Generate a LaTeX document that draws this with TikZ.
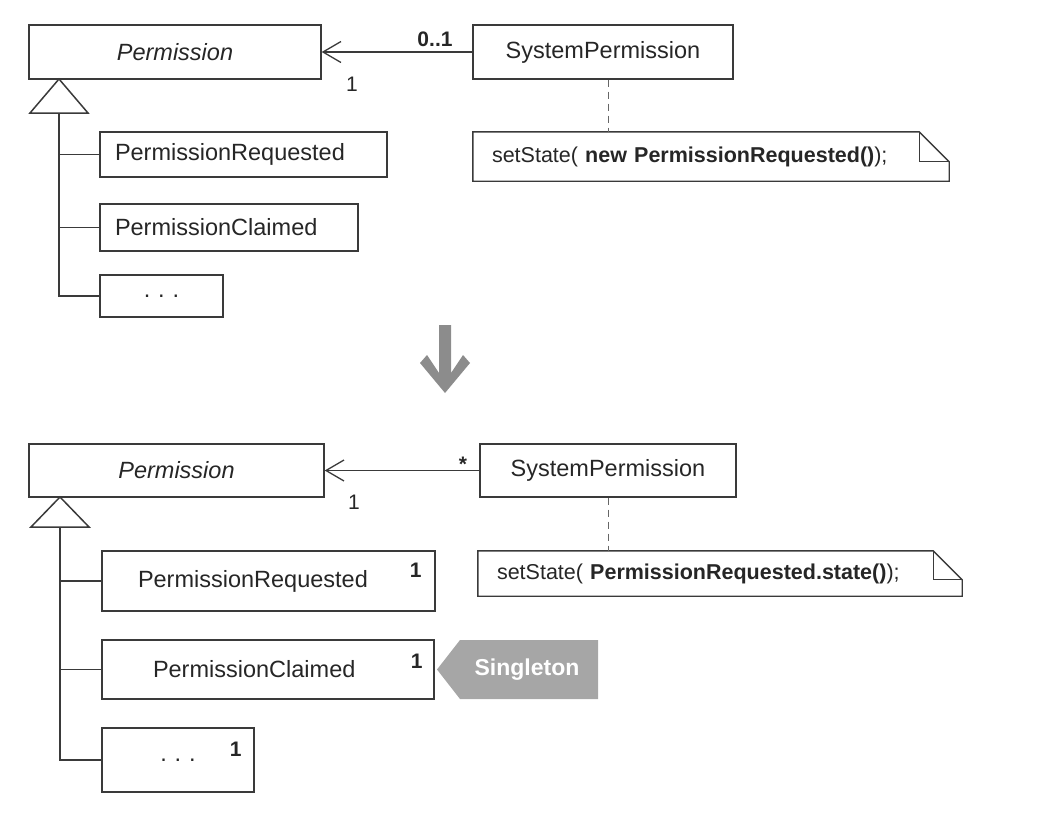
\documentclass[tikz,border=0pt]{standalone}
\usepackage{fontspec}
\setmainfont{Liberation Sans}
\usetikzlibrary{arrows.meta}

\definecolor{umlline}{HTML}{3A3A3A}
\definecolor{bigarrow}{HTML}{8C8C8C}
\definecolor{tagfill}{HTML}{A6A6A6}

\tikzset{
    box/.style={draw=umlline, line width=1.4pt, inner sep=0pt, text=black!85,
        font=\fontsize{23.5}{27}\selectfont},
    leftbox/.style={box, align=left, inner xsep=15pt},
    notebox/.style={inner sep=0pt, align=left, inner xsep=19pt, text=black!85,
        font=\fontsize{21.5}{26}\selectfont},
    multi/.style={inner sep=0pt, text=black!85, font=\fontsize{21}{25}\selectfont},
    assoc/.style={draw=umlline, line width=1.3pt, -{Straight Barb[length=18pt, width=21pt, line width=1.3pt]}},
    link/.style={draw=umlline, line width=1.5pt},
    anchorline/.style={draw=black!60, line width=1pt, dash pattern=on 7pt off 5pt},
}

\begin{document}
\begin{tikzpicture}[x=1pt, y=-1pt]
    \useasboundingbox (0,0) rectangle (1060,822);

    % before
    \node[box, minimum width=292pt, minimum height=54pt] (perm1) at (175,52) {\itshape Permission};
    \node[box, minimum width=260pt, minimum height=54pt] (sys1) at (603,52) {SystemPermission};
    \draw[assoc] (sys1.west) -- (perm1.east);
    \node[multi, font=\fontsize{21}{25}\selectfont\bfseries] (many1) at (435,39) {0..1};
    \node[multi] (one1) at (352,84) {1};

    \node[leftbox, text width=257pt, minimum height=45pt] (req1) at (243.5,154.5) {PermissionRequested};
    \node[leftbox, text width=228pt, minimum height=47pt] (claim1) at (229,227.5) {PermissionClaimed};
    \node[box, minimum width=123pt, minimum height=42pt] (etc1) at (161.5,296) {.\,\,.\,\,.};

    \coordinate (tip1) at (59,79);
    \coordinate (base1) at (59,113);
    \draw[link, line join=miter] (tip1) -- (30,113) -- (88,113) -- cycle;
    \draw[link] (base1) |- (etc1.west);
    \draw[link] (req1.west -| base1) -- (req1.west);
    \draw[link] (claim1.west -| base1) -- (claim1.west);

    \node[notebox, text width=438pt, minimum height=49pt] (note1) at (711,156.5)
        {setState( \textbf{new PermissionRequested()});};
    \draw[umlline, line width=1.4pt, line join=miter] (note1.south west) -- (note1.north west)
        -- ([xshift=-30pt]note1.north east) -- ([yshift=-30pt]note1.north east)
        -- (note1.south east) -- cycle;
    \draw[umlline, line width=1.2pt] ([xshift=-30pt]note1.north east) |- ([yshift=-30pt]note1.north east);
    \draw[anchorline] ([xshift=5pt]sys1.south) -- ([xshift=5pt]sys1.south |- note1.north);

    % refactoring arrow
    \fill[bigarrow] (439,325) -- (451,325) -- (451,373) -- (463,355) -- (470,363)
        -- (445,393) -- (420,363) -- (427,355) -- (439,373) -- cycle;

    % after
    \node[box, minimum width=295pt, minimum height=53pt] (perm2) at (176.5,470.5) {\itshape Permission};
    \node[box, minimum width=256pt, minimum height=53pt] (sys2) at (608,470.5) {SystemPermission};
    \draw[assoc] (sys2.west) -- (perm2.east);
    \node[multi, font=\fontsize{21}{25}\selectfont\bfseries] (many2) at (463,464) {*};
    \node[multi] (one2) at (354,502) {1};

    \node[leftbox, inner xsep=36pt, text width=261pt, minimum height=60pt] (req2) at (268.5,581) {PermissionRequested};
    \node[leftbox, inner xsep=51pt, text width=230pt, minimum height=59pt] (claim2) at (268,669.5) {PermissionClaimed};
    \node[box, minimum width=152pt, minimum height=64pt] (etc2) at (178,760) {.\,\,.\,\,.};
    \node[multi, font=\fontsize{21}{25}\selectfont\bfseries] (single1) at ([xshift=-20pt,yshift=-20pt]req2.north east) {1};
    \node[multi, font=\fontsize{21}{25}\selectfont\bfseries] (single2) at ([xshift=-18pt,yshift=-22pt]claim2.north east) {1};
    \node[multi, font=\fontsize{21}{25}\selectfont\bfseries] (single3) at ([xshift=-19pt,yshift=-22pt]etc2.north east) {1};

    \coordinate (tip2) at (60,497);
    \coordinate (base2) at (60,527);
    \draw[link, line join=miter] (tip2) -- (31,527) -- (89,527) -- cycle;
    \draw[link] (base2) |- (etc2.west);
    \draw[link] (req2.west -| base2) -- (req2.west);
    \draw[link] (claim2.west -| base2) -- (claim2.west);

    \node[notebox, text width=446pt, minimum height=45pt] (note2) at (720,573.5)
        {setState( \textbf{PermissionRequested.state()});};
    \draw[umlline, line width=1.4pt, line join=miter] (note2.south west) -- (note2.north west)
        -- ([xshift=-29pt]note2.north east) -- ([yshift=-29pt]note2.north east)
        -- (note2.south east) -- cycle;
    \draw[umlline, line width=1.2pt] ([xshift=-29pt]note2.north east) |- ([yshift=-29pt]note2.north east);
    \draw[anchorline] (sys2.south) -- (sys2.south |- note2.north);

    % pattern tag
    \fill[tagfill] (437,669.5) -- (460,640) -- (598,640) -- (598,699) -- (460,699) -- cycle;
    \node[inner sep=0pt, text=white, font=\fontsize{23}{27}\selectfont\bfseries] (tag) at (527,670) {Singleton};
\end{tikzpicture}
\end{document}
